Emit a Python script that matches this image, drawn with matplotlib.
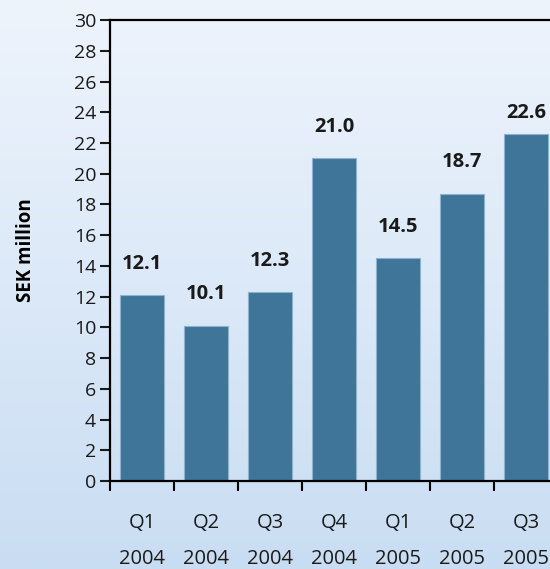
import numpy as np
import matplotlib.pyplot as plt
from matplotlib.colors import LinearSegmentedColormap

quarters = ['Q1', 'Q2', 'Q3', 'Q4', 'Q1', 'Q2', 'Q3']
years = ['2004', '2004', '2004', '2004', '2005', '2005', '2005']
values = [12.1, 10.1, 12.3, 21.0, 14.5, 18.7, 22.6]

plt.rcParams['font.family'] = ['Open Sans', 'DejaVu Sans']

fig = plt.figure(figsize=(5.5, 5.69), dpi=100)

# light blue background, paler at the top
bg = fig.add_axes([0, 0, 1, 1], zorder=-1)
cmap = LinearSegmentedColormap.from_list('bg', ['#eef4fc', '#dce9f8', '#c9ddf2'])
grad = np.linspace(0, 1, 256).reshape(-1, 1)
bg.imshow(grad, aspect='auto', cmap=cmap, extent=[0, 1, 0, 1], origin='upper')
bg.axis('off')

ax = fig.add_axes([0.2, 0.1547, 0.8145, 0.810])
ax.patch.set_alpha(0)

x = np.arange(len(values))
ax.bar(x, values, width=0.69, color='#3e7599', edgecolor='#8fb2cc', linewidth=0.8)

for xi, v in zip(x, values):
    ax.text(xi, min(v + 2.05, 23.95), f'{v:.1f}', ha='center', va='center',
            fontsize=14.5, fontweight='bold', color='#1a1a1a')

ax.set_xlim(-0.5, len(values) - 0.5)
ax.set_ylim(0, 30)
ax.set_yticks(range(0, 31, 2))
ax.tick_params(axis='y', labelsize=14, length=7, width=1.5, pad=3, colors='#1a1a1a')

ax.set_xticks(x)
ax.set_xticklabels([f'{q}\n{y}' for q, y in zip(quarters, years)],
                   fontsize=14.5, linespacing=2.05, color='#1a1a1a')
ax.tick_params(axis='x', which='major', length=0, pad=23)
ax.set_xticks(np.arange(len(values)) - 0.5, minor=True)
ax.tick_params(axis='x', which='minor', length=7, width=1.5, direction='out')

for s in ['left', 'bottom', 'top']:
    ax.spines[s].set_linewidth(1.6)
ax.spines['right'].set_visible(False)

ax.set_ylabel('SEK million', fontsize=13.5, fontweight='bold')
ax.yaxis.set_label_coords(-0.165, 0.5)

fig.savefig('out.png', dpi=100)
